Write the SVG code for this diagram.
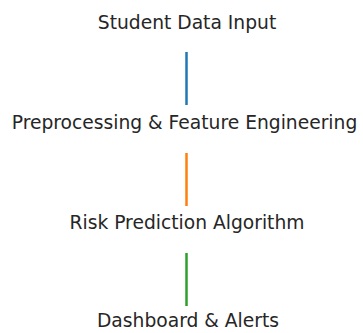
<svg xmlns="http://www.w3.org/2000/svg" width="363" height="333" viewBox="0 0 363 333">
<style>
text{font-family:"DejaVu Sans",sans-serif;font-size:18.7px;fill:#262626;text-anchor:middle}
.c{stroke-width:2.5;fill:none}
</style>
<rect width="363" height="333" fill="#fff"/>
<g id="connectors">
<line class="c" x1="186.5" y1="52" x2="186.5" y2="105" stroke="#1f77b4"/>
<line class="c" x1="186.5" y1="153" x2="186.5" y2="206" stroke="#ff7f0e"/>
<line class="c" x1="186.5" y1="253" x2="186.5" y2="306" stroke="#2ca02c"/>
</g>
<g id="n1"><text x="187" y="28.5">Student Data Input</text></g>
<g id="n2"><text x="184.5" y="128.5">Preprocessing &amp; Feature Engineering</text></g>
<g id="n3"><text x="187" y="228.5">Risk Prediction Algorithm</text></g>
<g id="n4"><text x="188" y="327">Dashboard &amp; Alerts</text></g>
</svg>
